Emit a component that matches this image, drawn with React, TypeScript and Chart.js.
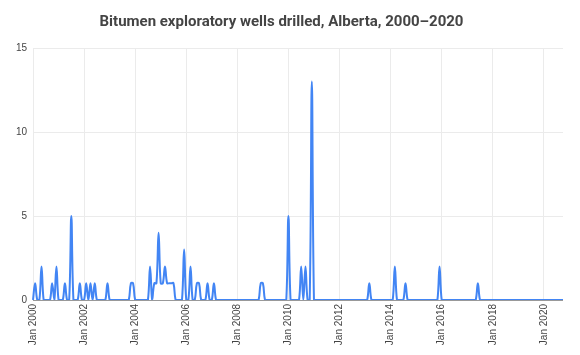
import React, { useEffect, useRef } from "react";
import { Chart, registerables } from "chart.js";

Chart.register(...registerables);

const TITLE = "Bitumen exploratory wells drilled, Alberta, 2000–2020";

const monthNames = ["Jan", "Feb", "Mar", "Apr", "May", "Jun", "Jul", "Aug", "Sep", "Oct", "Nov", "Dec"];
const years = [2000, 2001, 2002, 2003, 2004, 2005, 2006, 2007, 2008, 2009, 2010, 2011, 2012, 2013, 2014, 2015, 2016, 2017, 2018, 2019, 2020];
const monthsIn2020 = 10;

const wells2000 = [0, 1, 0, 0, 2, 0, 0, 0, 0, 1, 0, 2];
const wells2001 = [0, 0, 0, 1, 0, 0, 5, 0, 0, 0, 1, 0];
const wells2002 = [0, 1, 0, 1, 0, 1, 0, 0, 0, 0, 0, 1];
const wells2003 = [0, 0, 0, 0, 0, 0, 0, 0, 0, 0, 1, 1];
const wells2004 = [0, 0, 0, 0, 0, 0, 0, 2, 0, 1, 1, 4];
const wells2005 = [1, 1, 2, 1, 1, 1, 1, 0, 0, 0, 0, 3];
const wells2006 = [0, 0, 2, 0, 0, 1, 1, 0, 0, 0, 1, 0];
const wells2007 = [0, 1, 0, 0, 0, 0, 0, 0, 0, 0, 0, 0];
const wells2008 = [0, 0, 0, 0, 0, 0, 0, 0, 0, 0, 0, 1];
const wells2009 = [1, 0, 0, 0, 0, 0, 0, 0, 0, 0, 0, 0];
const wells2010 = [5, 0, 0, 0, 0, 0, 2, 0, 2, 0, 0, 13];
const wells2011 = [0, 0, 0, 0, 0, 0, 0, 0, 0, 0, 0, 0];
const wells2012 = [0, 0, 0, 0, 0, 0, 0, 0, 0, 0, 0, 0];
const wells2013 = [0, 0, 1, 0, 0, 0, 0, 0, 0, 0, 0, 0];
const wells2014 = [0, 0, 2, 0, 0, 0, 0, 1, 0, 0, 0, 0];
const wells2015 = [0, 0, 0, 0, 0, 0, 0, 0, 0, 0, 0, 2];
const wells2016 = [0, 0, 0, 0, 0, 0, 0, 0, 0, 0, 0, 0];
const wells2017 = [0, 0, 0, 0, 0, 1, 0, 0, 0, 0, 0, 0];
const wells2018 = [0, 0, 0, 0, 0, 0, 0, 0, 0, 0, 0, 0];
const wells2019 = [0, 0, 0, 0, 0, 0, 0, 0, 0, 0, 0, 0];
const wells2020 = [0, 0, 0, 0, 0, 0, 0, 0, 0, 0];

const xTickLabels = ["Jan 2000", "Jan 2002", "Jan 2004", "Jan 2006", "Jan 2008", "Jan 2010", "Jan 2012", "Jan 2014", "Jan 2016", "Jan 2018", "Jan 2020"];
const yTicks = [0, 5, 10, 15];

const FONT = "'Liberation Sans', Arial, sans-serif";
const TITLE_FONT = "Roboto, 'Liberation Sans', Arial, sans-serif";

export default function App() {
  const ref = useRef<HTMLCanvasElement | null>(null);

  useEffect(() => {
    document.body.style.margin = "0";
    const labels: string[] = [];
    years.forEach((y) => {
      const n = y === 2020 ? monthsIn2020 : 12;
      for (let m = 0; m < n; m++) labels.push(`${monthNames[m]} ${y}`);
    });
    const values = [
      ...wells2000, ...wells2001, ...wells2002, ...wells2003, ...wells2004,
      ...wells2005, ...wells2006, ...wells2007, ...wells2008, ...wells2009,
      ...wells2010, ...wells2011, ...wells2012, ...wells2013, ...wells2014,
      ...wells2015, ...wells2016, ...wells2017, ...wells2018, ...wells2019,
      ...wells2020,
    ];
    const chart = new Chart(ref.current as HTMLCanvasElement, {
      type: "line",
      data: {
        labels,
        datasets: [
          {
            data: values,
            borderColor: "#4285F4",
            borderWidth: 2,
            pointRadius: 0,
            tension: 0.4,
            fill: false,
          },
        ],
      },
      options: {
        animation: false,
        responsive: false,
        maintainAspectRatio: false,
        layout: { padding: { left: 0, right: 17, top: 0, bottom: 0 } },
        plugins: {
          legend: { display: false },
          tooltip: { enabled: false },
          title: {
            display: true,
            text: TITLE,
            color: "#444",
            font: { size: 15, weight: "bold", family: TITLE_FONT },
            padding: { top: 13, bottom: 17 },
          },
        },
        scales: {
          x: {
            type: "category",
            grid: { color: "#ebebeb", drawTicks: false, offset: false },
            border: { display: false },
            ticks: {
              autoSkip: false,
              maxRotation: 90,
              minRotation: 90,
              padding: 4,
              color: "#444",
              font: { size: 10, family: FONT },
              callback: function (this: any, val: any) {
                const l = this.getLabelForValue(val);
                return xTickLabels.includes(l) ? l : null;
              },
            },
            afterFit: (s: any) => {
              s.height = 55;
            },
          },
          y: {
            min: yTicks[0],
            max: yTicks[yTicks.length - 1],
            grid: {
              color: (c: any) => (c.tick && c.tick.value === 0 ? "#999" : "#ebebeb"),
              drawTicks: false,
            },
            border: { display: false },
            ticks: {
              stepSize: 5,
              padding: 6,
              color: "#444",
              font: { size: 10, family: FONT },
            },
            afterFit: (s: any) => {
              s.width = 33;
            },
          },
        },
      },
    });
    return () => chart.destroy();
  }, []);

  return (
    <div style={{ width: 580, height: 355 }}>
      <canvas ref={ref} width={580} height={355} />
    </div>
  );
}
